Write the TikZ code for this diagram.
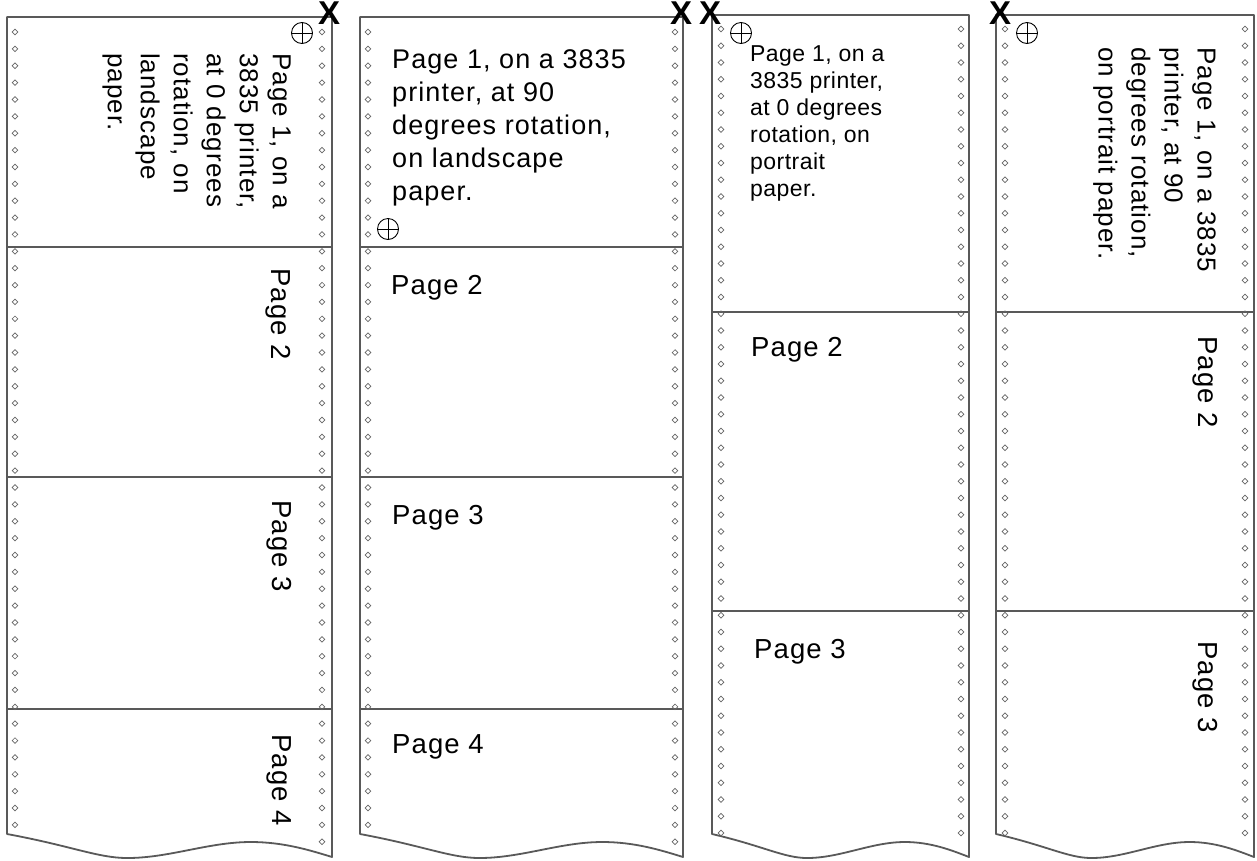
\documentclass[tikz,border=0pt]{standalone}
\usepackage{fontspec}
\setmainfont{Liberation Sans}
\usepackage{tikz}

% outline of one fan-fold strip: #1 left, #2 right, #3 top
\newcommand\paperstrip[3]{%
  \draw[strip] (#1,#3) -- (#2,#3) -- (#2,857)
    .. controls ({#1+0.93*(#2-#1)},850) and ({#1+0.85*(#2-#1)},842) .. ({#1+0.75*(#2-#1)},842)
    .. controls ({#1+0.62*(#2-#1)},842) and ({#1+0.50*(#2-#1)},858) .. ({#1+0.37*(#2-#1)},858)
    .. controls ({#1+0.28*(#2-#1)},858) and ({#1+0.20*(#2-#1)},846) .. (#1,834) -- cycle;}
% tractor holes: #1 x, #2 first y, #3 pitch, #4 last index
\newcommand\pinrow[4]{%
  \foreach \i in {0,...,#4}
    \draw[hole] (#1,{#2+#3*\i}) +(0,-2.8) -- +(2.8,0) -- +(0,2.8) -- +(-2.8,0) -- cycle;}

\tikzset{
  strip/.style={draw=black!65, line width=1.8pt, fill=white, line join=round},
  fold/.style={draw=black!65, line width=1.8pt},
  hole/.style={draw=black!60, line width=0.7pt},
  cutmark/.style={inner sep=0pt, font=\bfseries\fontsize{33pt}{33pt}\selectfont},
  regmark/.style={circle, draw, line width=0.9pt, minimum size=21pt, inner sep=0pt,
    path picture={\draw[line width=0.9pt] (path picture bounding box.north) -- (path picture bounding box.south)
      (path picture bounding box.west) -- (path picture bounding box.east);}},
  pagetext/.style={inner sep=0pt, anchor=north west, align=left},
  turned/.style={pagetext, rotate=-90},
  landfont/.style={font=\fontsize{26pt}{33pt}\selectfont\addfontfeatures{LetterSpace=4}},
  wideland/.style={font=\fontsize{27pt}{33pt}\selectfont\addfontfeatures{LetterSpace=4}},
  portfont/.style={font=\fontsize{23pt}{27pt}\selectfont\addfontfeatures{LetterSpace=2}},
  pagefont/.style={font=\fontsize{27.5pt}{33pt}\selectfont\addfontfeatures{LetterSpace=4}}
}

\begin{document}
\begin{tikzpicture}[x=1pt, y=-1pt]
    \useasboundingbox (0,0) rectangle (1257,860);

    % strip 1: 3835, 0 degrees, landscape
    \paperstrip{7}{332}{17}
    \draw[fold] (7,247) -- (332,247);
    \draw[fold] (7,477) -- (332,477);
    \draw[fold] (7,709) -- (332,709);
    \pinrow{15}{32}{16.87}{47}
    \pinrow{322}{32}{16.87}{48}
    \node (s1reg) [regmark] at (302,33) {};
    \node (s1p1) [turned, landfont] at (291,53) {Page 1, on a\\3835 printer,\\at 0 degrees\\rotation, on\\landscape\\paper.};
    \node (s1p2) [turned, pagefont] at (291,268) {Page 2};
    \node (s1p3) [turned, pagefont] at (292,500) {Page 3};
    \node (s1p4) [turned, pagefont] at (292,734) {Page 4};
    \node (s1cut) [cutmark] at (329,13) {X};

    % strip 2: 3835, 90 degrees, landscape
    \paperstrip{360}{683}{17}
    \draw[fold] (360,247) -- (683,247);
    \draw[fold] (360,477) -- (683,477);
    \draw[fold] (360,709) -- (683,709);
    \pinrow{368}{32}{16.87}{47}
    \pinrow{675}{32}{16.87}{48}
    \node (s2reg) [regmark] at (388,229) {};
    \node (s2p1) [pagetext, wideland] at (392,49) {Page 1, on a 3835\\printer, at 90\\degrees rotation,\\on landscape\\paper.};
    \node (s2p2) [pagetext, pagefont] at (391,275) {Page 2};
    \node (s2p3) [pagetext, pagefont] at (392,505) {Page 3};
    \node (s2p4) [pagetext, pagefont] at (392,734) {Page 4};
    \node (s2cut) [cutmark] at (681,13) {X};

    % strip 3: 3835, 0 degrees, portrait
    \paperstrip{712}{969}{15}
    \draw[fold] (712,312) -- (969,312);
    \draw[fold] (712,611) -- (969,611);
    \pinrow{721}{29}{16.75}{48}
    \pinrow{961}{29}{16.75}{48}
    \node (s3reg) [regmark] at (741,33) {};
    \node (s3p1) [pagetext, portfont] at (750,45) {Page 1, on a\\3835 printer,\\at 0 degrees\\rotation, on\\portrait\\paper.};
    \node (s3p2) [pagetext, pagefont] at (751,337) {Page 2};
    \node (s3p3) [pagetext, pagefont] at (754,639) {Page 3};
    \node (s3cut) [cutmark] at (710,13) {X};

    % strip 4: 3835, 90 degrees, portrait
    \paperstrip{996}{1254}{15}
    \draw[fold] (996,312) -- (1254,312);
    \draw[fold] (996,611) -- (1254,611);
    \pinrow{1005}{29}{16.75}{48}
    \pinrow{1245}{29}{16.75}{48}
    \node (s4reg) [regmark] at (1027,33) {};
    \node (s4p1) [turned, landfont] at (1216,47) {Page 1, on a 3835\\printer, at 90\\degrees rotation,\\on portrait paper.};
    \node (s4p2) [turned, pagefont] at (1218,336) {Page 2};
    \node (s4p3) [turned, pagefont] at (1218,641) {Page 3};
    \node (s4cut) [cutmark] at (1000,13) {X};
\end{tikzpicture}
\end{document}
